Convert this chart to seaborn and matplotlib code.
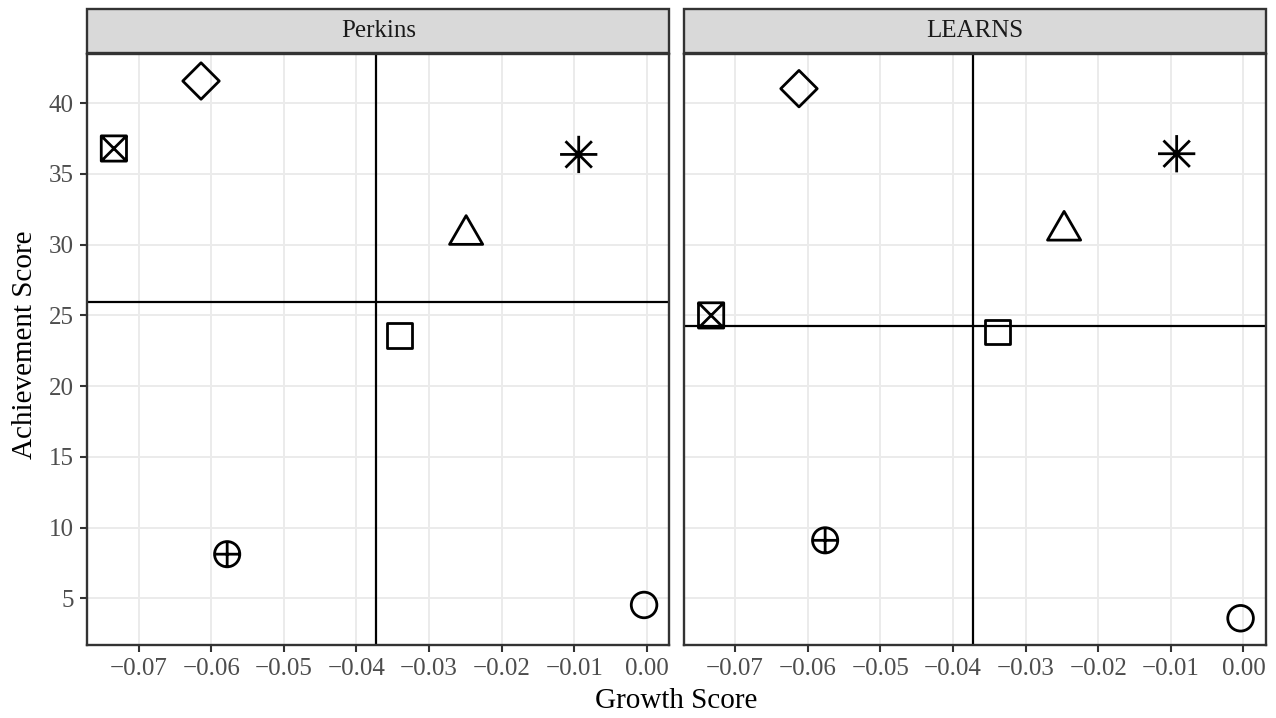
import numpy as np
import pandas as pd
import matplotlib
matplotlib.use("Agg")
import matplotlib.pyplot as plt
from matplotlib.path import Path
from matplotlib.patches import Rectangle
from matplotlib.ticker import FuncFormatter
import seaborn as sns

# ---------------- data ----------------
programs = ["Perkins", "LEARNS"]
groups = ["Group 1", "Group 2", "Group 3", "Group 4", "Group 5", "Group 6", "Group 7"]
# shapes: boxed x, diamond, asterisk, triangle, square, circle-plus, circle
perkins_growth = [-0.0734, -0.0614, -0.0094, -0.0249, -0.0341, -0.0578, -0.0004]
perkins_achievement = [36.8, 41.57, 36.38, 30.7, 23.55, 8.12, 4.53]
learns_growth = [-0.0733, -0.0612, -0.0092, -0.0247, -0.0339, -0.0576, -0.0004]
learns_achievement = [25.0, 41.03, 36.43, 31.0, 23.83, 9.1, 3.59]
x_ticks = [-0.07, -0.06, -0.05, -0.04, -0.03, -0.02, -0.01, 0.00]
y_ticks = [5, 10, 15, 20, 25, 30, 35, 40]

df = pd.DataFrame({
    "program": [programs[0]] * len(groups) + [programs[1]] * len(groups),
    "group": groups + groups,
    "growth": perkins_growth + learns_growth,
    "achievement": perkins_achievement + learns_achievement,
})

# ---------------- marker shapes (ggplot-like outlines) ----------------
M, L, C = Path.MOVETO, Path.LINETO, Path.CLOSEPOLY
sq = Path([(-1, -1), (1, -1), (1, 1), (-1, 1), (-1, -1)], [M, L, L, L, C])
box_x = Path.make_compound_path(
    sq, Path([(-1, -1), (1, 1)], [M, L]), Path([(-1, 1), (1, -1)], [M, L]))
diamond = Path([(0, 1), (1, 0), (0, -1), (-1, 0), (0, 1)], [M, L, L, L, C])
s3 = np.sqrt(3) / 2
triangle = Path([(0, 1), (s3, -0.5), (-s3, -0.5), (0, 1)], [M, L, L, C])
ast_parts = []
for ang in np.arange(0, 180, 45):
    a = np.deg2rad(ang)
    ast_parts.append(Path([(np.cos(a), np.sin(a)), (-np.cos(a), -np.sin(a))], [M, L]))
asterisk = Path.make_compound_path(*ast_parts)
circ = Path.unit_circle()
circle_plus = Path.make_compound_path(
    circ, Path([(0, -1), (0, 1)], [M, L]), Path([(-1, 0), (1, 0)], [M, L]))

marker_specs = {
    "Group 1": (box_x, 330),
    "Group 2": (diamond, 690),
    "Group 3": (asterisk, 720),
    "Group 4": (triangle, 760),
    "Group 5": (sq, 320),
    "Group 6": (circle_plus, 330),
    "Group 7": (circ, 340),
}

# ---------------- style ----------------
sns.set_style("white")
plt.rcParams["font.family"] = ["Liberation Serif", "DejaVu Serif"]
plt.rcParams["axes.unicode_minus"] = True

fig, axes = plt.subplots(1, 2, figsize=(12.76, 7.18), dpi=100, sharey=True)
fig.subplots_adjust(left=87 / 1276, right=1266 / 1276,
                    bottom=1 - 645 / 718, top=1 - 54 / 718, wspace=14 / 582)

fmt = FuncFormatter(lambda v, p: f"{v:.2f}".replace("-", "\u2212") if abs(v) > 1e-9 else "0.00")

for ax, prog in zip(axes, programs):
    sub = df[df["program"] == prog]
    ax.set_axisbelow(True)
    ax.grid(True, color="#EBEBEB", linewidth=1.4)
    for g in groups:
        path, size = marker_specs[g]
        sns.scatterplot(data=sub[sub["group"] == g], x="growth", y="achievement",
                        marker=path, s=size, color="none", edgecolor="black",
                        linewidth=2.0, ax=ax, legend=False, zorder=3)
    ax.axvline(sub["growth"].mean(), color="black", linewidth=1.6, zorder=2)
    ax.axhline(sub["achievement"].mean(), color="black", linewidth=1.6, zorder=2)

    ax.set_xlim(-0.0771, 0.0031)
    ax.set_ylim(1.70, 43.48)
    ax.set_xticks(x_ticks)
    ax.set_yticks(y_ticks)
    ax.xaxis.set_major_formatter(fmt)
    ax.set_xlabel("")
    ax.set_ylabel("")
    for sp in ax.spines.values():
        sp.set_visible(True)
        sp.set_color("#333333")
        sp.set_linewidth(1.7)
    ax.tick_params(axis="both", which="major", labelsize=18, labelcolor="#4D4D4D",
                   color="#333333", length=5, width=1.5, direction="out", pad=4.5)
    ax.tick_params(axis="x", bottom=True)

    # facet strip
    strip_h = 44 / 591
    ax.add_patch(Rectangle((0, 1 + 1 / 591), 1, strip_h, transform=ax.transAxes,
                           clip_on=False, facecolor="#D9D9D9", edgecolor="#333333",
                           linewidth=1.7))
    ax.text(0.5, 1 + 1 / 591 + strip_h / 2, prog, transform=ax.transAxes,
            ha="center", va="center", fontsize=18, color="#1A1A1A")

axes[0].tick_params(axis="y", left=True)
axes[1].tick_params(axis="y", left=False, labelleft=False)

fig.text((87 + 1266) / 2 / 1276, 1 - 701 / 718, "Growth Score",
         ha="center", va="center", fontsize=21, color="black")
fig.text(25 / 1276, 1 - 345 / 718, "Achievement Score", rotation=90,
         ha="center", va="center", fontsize=21, color="black")

fig.savefig("out.png", dpi=100)
